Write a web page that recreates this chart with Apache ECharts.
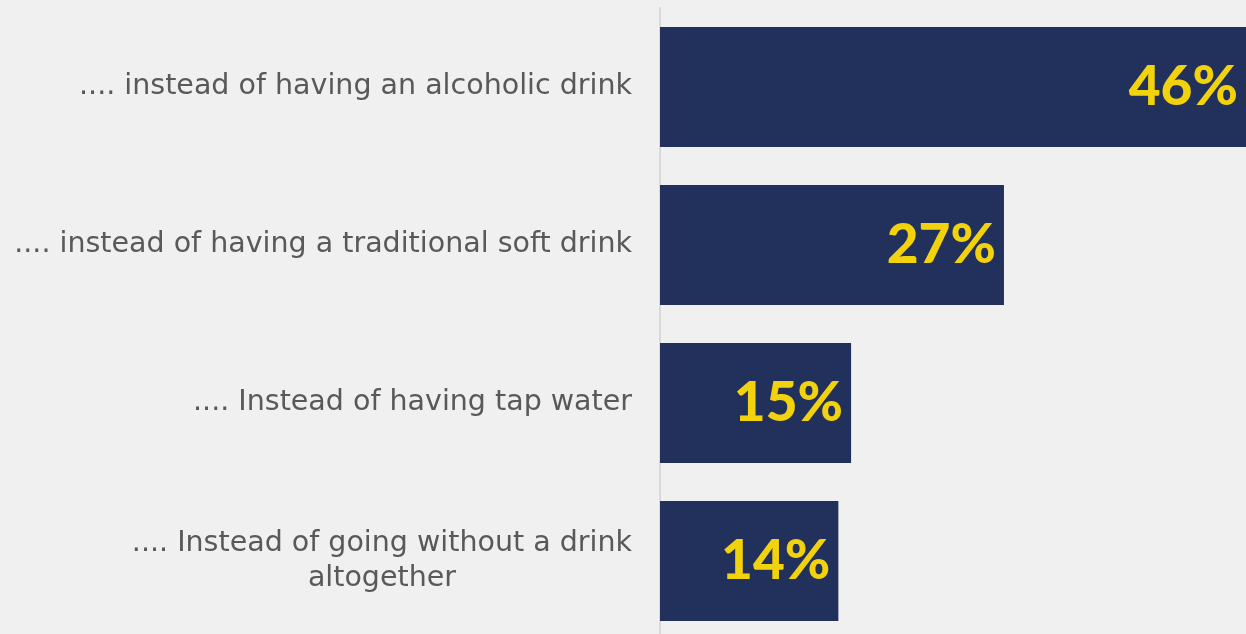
<!DOCTYPE html>
<html>
<head>
<meta charset="utf-8">
<script src="https://cdn.jsdelivr.net/npm/echarts@6/dist/echarts.min.js"></script>
<style>
  html, body { margin: 0; padding: 0; background: #f0f0f0; }
  #chart { width: 1246px; height: 634px; }
</style>
</head>
<body>
<div id="chart"></div>
<script>
// Reasons for choosing the drink, top to bottom
const categories = [
  '.... instead of having an alcoholic drink',
  '.... instead of having a traditional soft drink',
  '.... Instead of having tap water',
  '.... Instead of going without a drink\naltogether'
];
// Share of respondents, percent
const values = [46, 27, 15, 14];

const catFamily = 'DejaVu Sans';
const catSize = 28.5;

// width of a line of label text, so multi-line labels can be centred as a block
function lineWidth(text) {
  const ctx = document.createElement('canvas').getContext('2d');
  ctx.font = catSize + 'px "' + catFamily + '"';
  return ctx.measureText(text).width;
}

const chart = echarts.init(document.getElementById('chart'));
chart.setOption({
  backgroundColor: '#f0f0f0',
  animation: false,
  grid: {
    left: 660, width: 586, top: 8, height: 632,
    containLabel: false,
    outerBoundsMode: 'none'
  },
  xAxis: {
    type: 'value', min: 0, max: 46,
    show: false
  },
  yAxis: {
    type: 'category',
    data: categories,
    inverse: true,
    axisTick: { show: false },
    axisLine: { show: true, lineStyle: { color: '#d9d9d9', width: 2 } },
    axisLabel: {
      margin: 28,
      color: '#595959',
      fontFamily: catFamily,
      fontSize: catSize,
      lineHeight: 35,
      formatter: function (v) {
        if (v.indexOf('\n') < 0) return v;
        return v.split('\n').map(l => '{c|' + l + '}').join('\n');
      },
      rich: {
        c: {
          width: lineWidth('.... Instead of going without a drink'),
          align: 'center',
          color: '#595959',
          fontFamily: catFamily,
          fontSize: catSize,
          lineHeight: 35
        }
      }
    }
  },
  series: [{
    type: 'bar',
    data: values,
    barCategoryGap: '24%',
    itemStyle: { color: '#22305c' },
    label: {
      show: true,
      position: 'insideRight',
      distance: 8,
      formatter: '{c}%',
      color: '#f2d20c',
      fontFamily: 'Lato',
      fontWeight: 900,
      fontSize: 55
    }
  }]
});
</script>
</body>
</html>
